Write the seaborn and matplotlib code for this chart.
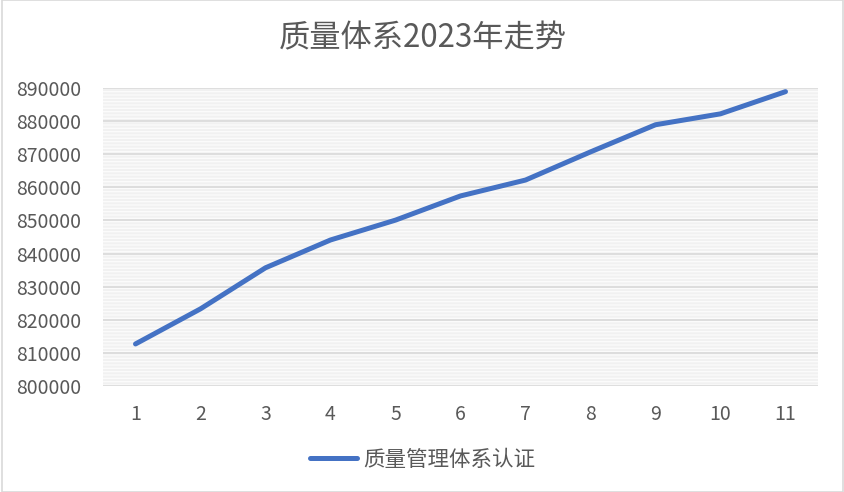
import matplotlib
matplotlib.use("Agg")
import matplotlib.pyplot as plt
import seaborn as sns
import pandas as pd
from matplotlib.patches import Rectangle

months = [1, 2, 3, 4, 5, 6, 7, 8, 9, 10, 11]
values = [812700, 823300, 835700, 844100, 850100, 857400, 862200, 870700, 878900, 882200, 888900]
series_name = "质量管理体系认证"
title = "质量体系2023年走势"
yticks = [800000, 810000, 820000, 830000, 840000, 850000, 860000, 870000, 880000, 890000]

sns.set_theme(style="white")
plt.rcParams['font.family'] = ['Noto Sans CJK SC', 'DejaVu Sans']
plt.rcParams['hatch.color'] = "#fbfbfb"

df = pd.DataFrame({"x": months, "y": values, "s": series_name})

fig = plt.figure(figsize=(8.45, 4.92), dpi=100)
ax = fig.add_axes([103/845, 1-386/492, 715/845, 298/492])

# patterned background
bg = Rectangle((0, 0), 1, 1, transform=ax.transAxes, facecolor="#f1f1f1",
               edgecolor="#fbfbfb", hatch="-----", linewidth=0, zorder=0)
ax.add_patch(bg)

for yv in yticks:
    ax.axhline(yv, color="#d9d9d9", lw=1.2, zorder=1)

sns.lineplot(data=df, x="x", y="y", hue="s", palette=["#4472C4"], ax=ax,
             linewidth=3.6, solid_capstyle="round", solid_joinstyle="round", zorder=3)

ax.set_xlim(0.5, 11.5)
ax.set_ylim(800000, 890000)
ax.set_xticks(months)
ax.set_xticklabels([str(m) for m in months])
ax.set_yticks(yticks)
ax.set_yticklabels([str(v) for v in yticks])
ax.tick_params(axis="both", length=0, labelsize=14, labelcolor="#595959")
ax.tick_params(axis="x", pad=13)
ax.tick_params(axis="y", pad=16)
for sp in ax.spines.values():
    sp.set_visible(False)
ax.set_xlabel("")
ax.set_ylabel("")

leg = ax.legend(loc="center", bbox_to_anchor=(0.5, 1 - 460/492), bbox_transform=fig.transFigure,
                frameon=False, fontsize=15.5, handlelength=2.2, handletextpad=0.25)
for t in leg.get_texts():
    t.set_color("#595959")
for l in leg.get_lines():
    l.set_linewidth(3.6)
    l.set_solid_capstyle("round")

fig.text(0.5, 1 - 38/492, title, ha="center", va="center", fontsize=22.5, color="#595959")

fig.patches.append(Rectangle((2/845, 0), 841/845, 1, transform=fig.transFigure,
                             fill=False, edgecolor="#d9d9d9", lw=1.2))

fig.savefig("out.png", dpi=100)
